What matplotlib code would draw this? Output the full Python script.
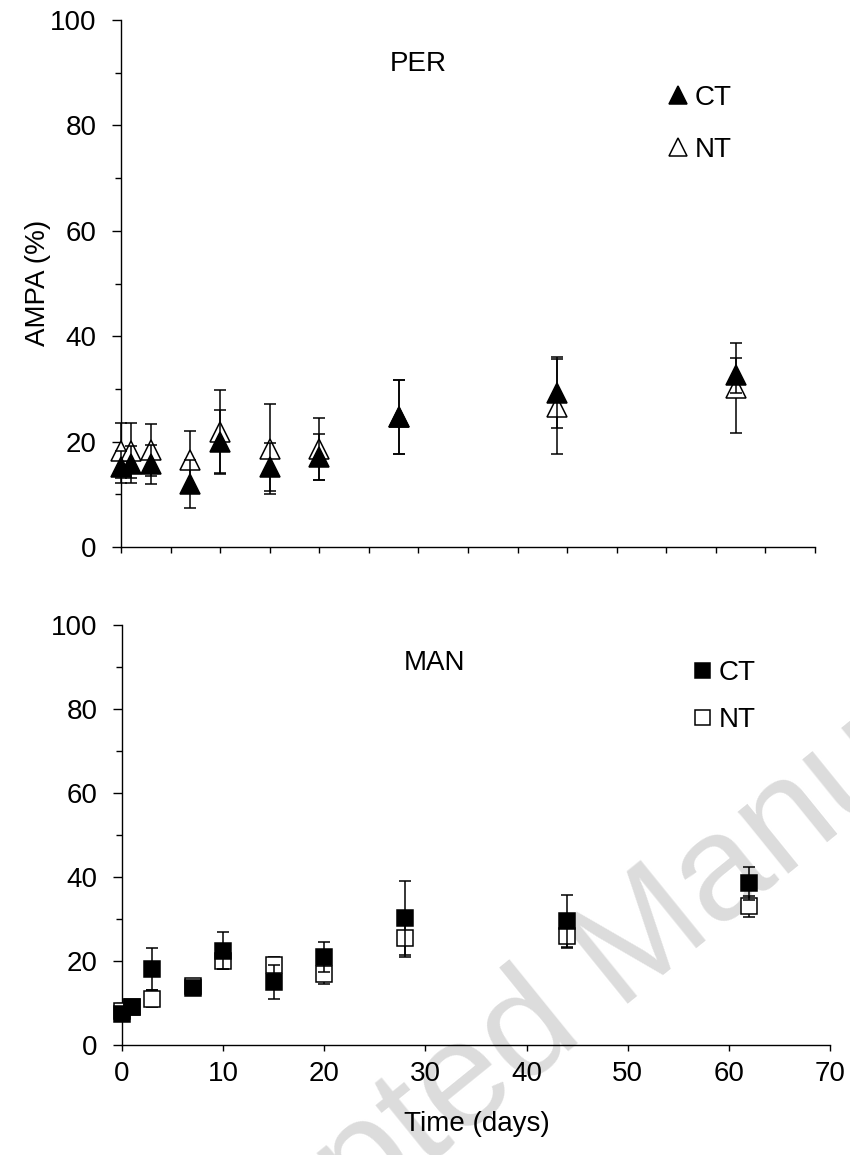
"""
AMPA (%) over time - PER / MAN panels, CT vs NT
"""

import matplotlib
matplotlib.use('Agg')
import matplotlib.pyplot as plt
from matplotlib.ticker import MultipleLocator

plt.rcParams['font.family'] = ['Liberation Sans', 'DejaVu Sans']
plt.rcParams['font.size'] = 20

# ── data ─────────────────────────────────────────────────────────────────────
days = [0, 1, 3, 7, 10, 15, 20, 28, 44, 62]

per_ct     = [15.2, 15.7, 15.7, 12.0, 20.0, 15.2, 17.1, 24.6, 29.3, 32.6]
per_ct_err = [3.1, 3.5, 3.7, 4.6, 6.0, 4.6, 4.3, 7.0, 6.8, 3.3]
per_nt     = [18.3, 18.3, 18.4, 16.5, 21.8, 18.6, 18.6, 24.6, 26.6, 30.2]
per_nt_err = [5.2, 5.2, 5.0, 5.6, 8.0, 8.5, 5.8, 7.0, 9.0, 8.6]

man_ct     = [7.5, 9.0, 18.0, 13.5, 22.5, 15.0, 21.0, 30.2, 29.6, 38.5]
man_ct_err = [1.5, 1.5, 5.0, 1.0, 4.5, 4.0, 3.5, 8.8, 6.2, 4.0]
man_nt     = [8.0, 9.0, 11.0, 14.0, 20.0, 19.0, 17.0, 25.5, 26.0, 33.0]
man_nt_err = [1.0, 1.5, 2.0, 1.0, 2.0, 2.0, 2.5, 4.5, 3.0, 2.5]

# ── figure ───────────────────────────────────────────────────────────────────
W, H = 850, 1155
fig = plt.figure(figsize=(W / 100, H / 100), dpi=100)

ax1 = fig.add_axes([121 / W, 1 - 547 / H, (815 - 121) / W, (547 - 20) / H])
ax2 = fig.add_axes([122 / W, 1 - 1045 / H, (830 - 122) / W, (1045 - 625) / H])

# watermark (runs off the page, as in the original)
fig.text(620 / W, 1 - 960 / H, 'Accepted Manuscript', fontsize=108,
         color='#dcdcdc', rotation=39, ha='center', va='center',
         rotation_mode='anchor', zorder=-1)


def draw(ax, ct, ct_err, nt, nt_err, marker, ms):
    kw = dict(fmt=marker, ms=ms, ecolor='black', elinewidth=1.1,
              capsize=4.5, capthick=1.1, mec='black', mew=1.1)
    nt_h = ax.errorbar(days, nt, yerr=nt_err, mfc='white', zorder=3, **kw)
    ct_h = ax.errorbar(days, ct, yerr=ct_err, mfc='black', zorder=4, **kw)
    for h in (nt_h, ct_h):
        for art in h.get_children():
            art.set_clip_on(False)
    return ct_h[0], nt_h[0]


def style(ax):
    ax.set_facecolor('none')
    for s in ['top', 'right']:
        ax.spines[s].set_visible(False)
    for s in ['left', 'bottom']:
        ax.spines[s].set_linewidth(1.0)
    ax.set_ylim(0, 100)
    ax.set_xlim(0, 70)
    ax.yaxis.set_major_locator(MultipleLocator(20))
    ax.yaxis.set_minor_locator(MultipleLocator(10))
    ax.tick_params(axis='y', which='major', direction='out', length=6.5,
                   width=1.0, pad=11)
    ax.tick_params(axis='y', which='minor', direction='out', length=4.3,
                   width=1.0)


# PER
style(ax1)
ct_l, nt_l = draw(ax1, per_ct, per_ct_err, per_nt, per_nt_err, '^', 14)
ax1.xaxis.set_major_locator(MultipleLocator(5))
ax1.tick_params(axis='x', direction='out', length=4.5, width=1.0,
                labelbottom=False)
ax1.text(0.428, 0.917, 'PER', transform=ax1.transAxes, ha='center', va='center')
ax1.legend([ct_l, nt_l], ['CT', 'NT'], loc='upper left',
           bbox_to_anchor=(0.788, 0.877), frameon=False, markerscale=0.88,
           handlelength=0.7, handletextpad=0.25, labelspacing=0.95,
           borderpad=0, borderaxespad=0)

# MAN
style(ax2)
ct_l, nt_l = draw(ax2, man_ct, man_ct_err, man_nt, man_nt_err, 's', 12)
ax2.xaxis.set_major_locator(MultipleLocator(10))
ax2.tick_params(axis='x', direction='out', length=4.5, width=1.0, pad=7)
ax2.text(0.442, 0.91, 'MAN', transform=ax2.transAxes, ha='center', va='center')
ax2.legend([ct_l, nt_l], ['CT', 'NT'], loc='upper left',
           bbox_to_anchor=(0.805, 0.917), frameon=False, markerscale=0.9,
           handlelength=0.7, handletextpad=0.25, labelspacing=0.75,
           borderpad=0, borderaxespad=0)

fig.text(38 / W, 1 - 283 / H, 'AMPA (%)', rotation=90, ha='center', va='center')
fig.text(477 / W, 1 - 1124 / H, 'Time (days)', ha='center', va='center')

fig.savefig('out.png', dpi=100)
plt.close(fig)
